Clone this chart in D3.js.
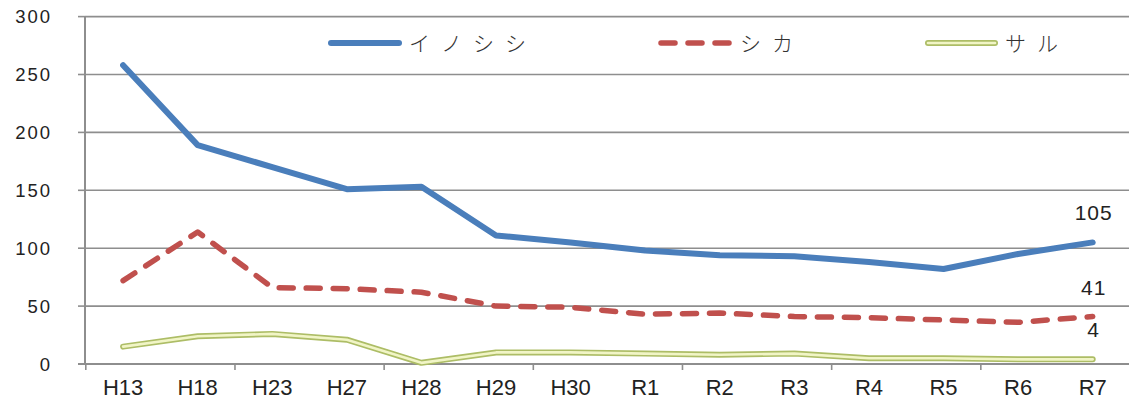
<!DOCTYPE html>
<html>
<head>
<meta charset="utf-8">
<script src="https://cdn.jsdelivr.net/npm/d3@7"></script>
<style>
  html, body { margin: 0; padding: 0; background: #fff; }
  svg { display: block; }
</style>
</head>
<body>
<svg id="chart" width="1129" height="400"></svg>
<script>
// Survey years (Heisei H / Reiwa R)
const categories = ["H13", "H18", "H23", "H27", "H28", "H29", "H30", "R1", "R2", "R3", "R4", "R5", "R6", "R7"];
// Counts per species
const inoshishi = [258, 189, 170, 151, 153, 111, 105, 98, 94, 93, 88, 82, 95, 105];
const shika     = [72, 114, 66, 65, 62, 50, 49, 43, 44, 41, 40, 38, 36, 41];
const saru      = [15, 24, 26, 21, 1, 10, 10, 9, 8, 9, 5, 5, 4, 4];
const yTicks = [0, 50, 100, 150, 200, 250, 300];
const seriesNames = ["イノシシ", "シカ", "サル"];

const svg = d3.select("#chart");

const x = d3.scaleBand().domain(categories).range([85.8, 1130]).paddingInner(0).paddingOuter(0);
const y = d3.scaleLinear().domain([0, 300]).range([364, 16.6]);
const cx = c => x(c) + x.bandwidth() / 2;

const gridColor = "#8e8e8e";

// Horizontal gridlines
svg.append("g").selectAll("line").data(yTicks.filter(t => t > 0)).join("line")
  .attr("x1", 85).attr("x2", 1129)
  .attr("y1", d => y(d)).attr("y2", d => y(d))
  .attr("stroke", gridColor).attr("stroke-width", 1.6);

// Y axis line and tick marks
const yAxis = svg.append("g");
yAxis.append("line").attr("x1", 85).attr("x2", 85).attr("y1", y(300)).attr("y2", y(0))
  .attr("stroke", gridColor).attr("stroke-width", 2);
yAxis.selectAll("line.tk").data(yTicks).join("line").attr("class", "tk")
  .attr("x1", 78).attr("x2", 85).attr("y1", d => y(d)).attr("y2", d => y(d))
  .attr("stroke", gridColor).attr("stroke-width", 1.6);
yAxis.selectAll("text").data(yTicks).join("text")
  .attr("x", 52).attr("y", d => y(d)).attr("dy", "0.36em")
  .attr("text-anchor", "end")
  .style("font-family", "'Liberation Sans', Arial, sans-serif")
  .style("font-size", "18.5px").style("letter-spacing", "2px")
  .attr("fill", "#222").text(d => d);

// X axis line, tick marks every second category boundary, labels
const xAxis = svg.append("g");
xAxis.append("line").attr("x1", 78).attr("x2", 1129).attr("y1", y(0)).attr("y2", y(0))
  .attr("stroke", gridColor).attr("stroke-width", 2);
const boundaries = d3.range(0, categories.length + 1, 2).map(i => x.range()[0] + i * x.step());
xAxis.selectAll("line.tk").data(boundaries).join("line").attr("class", "tk")
  .attr("x1", d => d).attr("x2", d => d).attr("y1", y(0)).attr("y2", y(0) + 6)
  .attr("stroke", gridColor).attr("stroke-width", 1.6);
xAxis.selectAll("text").data(categories).join("text")
  .attr("x", d => cx(d)).attr("y", 395)
  .attr("text-anchor", "middle")
  .style("font-family", "'Liberation Sans', Arial, sans-serif")
  .style("font-size", "22px")
  .attr("fill", "#222").text(d => d);

const line = d3.line().x((d, i) => cx(categories[i])).y(d => y(d));

// サル: light yellow-green line with darker rim
svg.append("path").attr("d", line(saru)).attr("fill", "none")
  .attr("stroke", "#adbd66").attr("stroke-width", 6).attr("stroke-linejoin", "round").attr("stroke-linecap", "round");
svg.append("path").attr("d", line(saru)).attr("fill", "none")
  .attr("stroke", "#f1f5c6").attr("stroke-width", 2.6).attr("stroke-linejoin", "round").attr("stroke-linecap", "round");

// シカ: red dashed line
svg.append("path").attr("d", line(shika)).attr("fill", "none")
  .attr("stroke", "#c0504d").attr("stroke-width", 5.5)
  .attr("stroke-dasharray", "14,13").attr("stroke-linecap", "round").attr("stroke-linejoin", "round");

// イノシシ: blue solid line
svg.append("path").attr("d", line(inoshishi)).attr("fill", "none")
  .attr("stroke", "#4a7ebb").attr("stroke-width", 6).attr("stroke-linejoin", "round").attr("stroke-linecap", "round");

// Value labels at the last year
const last = categories.length - 1;
const endLabels = [inoshishi[last], shika[last], saru[last]];
svg.append("g").selectAll("text").data(endLabels).join("text")
  .attr("x", cx(categories[last]) + 1).attr("y", d => y(d) - 22)
  .attr("text-anchor", "middle")
  .style("font-family", "'Liberation Sans', Arial, sans-serif")
  .style("font-size", "21px").style("letter-spacing", "1px")
  .attr("fill", "#222").text(d => d);

// Legend
const legend = svg.append("g");
const ly = 43;
const legendItems = [
  { name: seriesNames[0], x0: 328, x1: 402 },
  { name: seriesNames[1], x0: 658, x1: 733 },
  { name: seriesNames[2], x0: 925, x1: 998 }
];
// blue
legend.append("line").attr("x1", legendItems[0].x0 + 3).attr("x2", legendItems[0].x1 - 3).attr("y1", ly).attr("y2", ly)
  .attr("stroke", "#4a7ebb").attr("stroke-width", 6).attr("stroke-linecap", "round");
// red dashed
legend.append("line").attr("x1", legendItems[1].x0 + 3).attr("x2", legendItems[1].x1 - 3).attr("y1", ly).attr("y2", ly)
  .attr("stroke", "#c0504d").attr("stroke-width", 5.5)
  .attr("stroke-dasharray", "14,13").attr("stroke-linecap", "round");
// green double
legend.append("line").attr("x1", legendItems[2].x0 + 3).attr("x2", legendItems[2].x1 - 3).attr("y1", ly).attr("y2", ly)
  .attr("stroke", "#adbd66").attr("stroke-width", 6).attr("stroke-linecap", "round");
legend.append("line").attr("x1", legendItems[2].x0 + 3).attr("x2", legendItems[2].x1 - 3).attr("y1", ly).attr("y2", ly)
  .attr("stroke", "#f1f5c6").attr("stroke-width", 2.6).attr("stroke-linecap", "round");

legend.selectAll("text").data(legendItems).join("text")
  .attr("x", d => d.x1 + 7).attr("y", ly + 8)
  .style("font-family", "'Noto Sans CJK JP', sans-serif")
  .style("font-size", "21px").style("font-weight", 300).style("letter-spacing", "11px")
  .attr("fill", "#333").text(d => d.name);
</script>
</body>
</html>
